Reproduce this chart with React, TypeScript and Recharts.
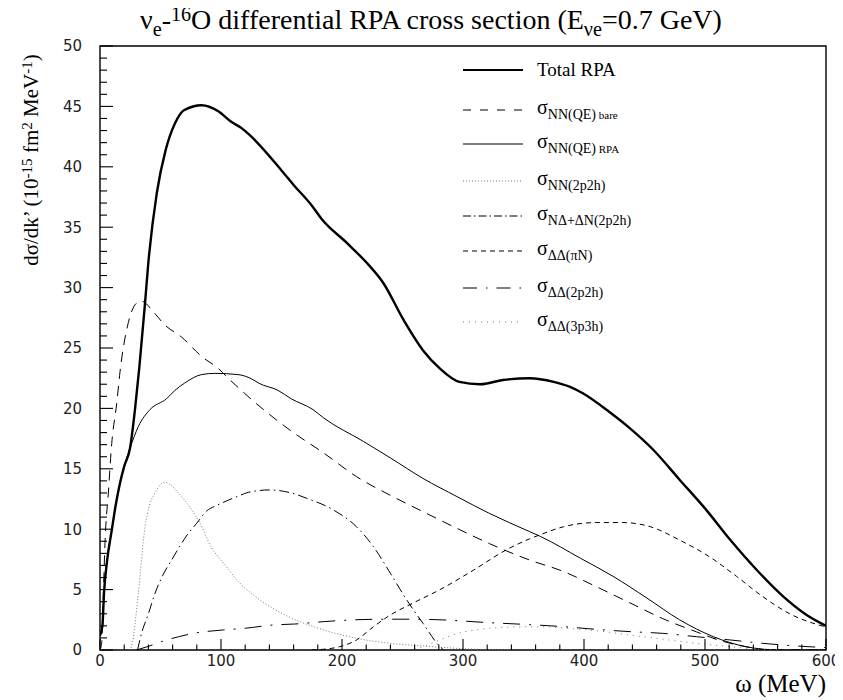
import React from 'react';
import { LineChart, Line, XAxis, YAxis, ReferenceArea, Legend } from 'recharts';

// ---- data: [omega (MeV), dσ/dk' (1e-15 fm^2 MeV^-1)] ----
const totalRPA: [number, number][] = [
  [0, 1.2], [2, 2.0], [3.3, 4.7], [6, 7.5], [9.7, 9.9], [13, 12.0], [16.5, 13.8], [20, 15.2],
  [24.8, 16.7], [28.9, 19.9], [32.5, 23.4], [37.2, 28.7], [39.9, 32.0], [46.9, 37.8], [54.3, 41.4],
  [62, 43.6], [69.7, 44.7], [84, 45.1], [97.8, 44.6], [108.8, 43.7], [117, 43.2], [124, 42.6],
  [150, 39.7], [160, 38.5], [175, 36.8], [183, 35.7], [204, 33.7], [220, 32.1], [234, 30.4],
  [251, 27.3], [267, 24.8], [281, 23.3], [297, 22.2], [314, 22.0], [333, 22.35], [355, 22.5],
  [375, 22.2], [388, 21.8], [399, 21.25], [421, 19.7], [438, 18.35], [457, 16.6], [479, 14.1],
  [501, 11.6], [521, 9.1], [543, 6.6], [565, 4.4], [584, 2.9], [600, 2.0],
];
const nnQeBare: [number, number][] = [
  [0, 0], [1.4, 0.6], [2.8, 4.7], [4.1, 8.8], [6.9, 13.0], [9.7, 17.1], [13.8, 20.4], [16.5, 23.0],
  [23.4, 27.1], [31.7, 28.8], [35, 28.85], [44, 28.0], [53.7, 26.9], [67.5, 25.9], [84, 24.3],
  [97.8, 23.3], [107, 22.4], [157, 18.2], [185, 16.3], [212, 14.35], [240, 12.8], [267, 11.45],
  [295, 10.07], [322, 8.8], [355, 7.45], [383, 6.5], [410, 5.25], [438, 3.9], [465, 2.6],
  [493, 1.5], [512, 0.8], [534, 0.27], [554, 0], [600, 0],
];
const nnQeRPA: [number, number][] = [
  [0, 1.2], [2, 2.0], [3.3, 4.7], [6, 7.5], [9.7, 9.9], [13, 12.0], [16.5, 13.8], [20, 15.2],
  [24.8, 16.7], [31.7, 18.5], [41.3, 19.9], [55, 20.8], [62, 21.5], [70, 22.1], [84, 22.8],
  [95, 22.9], [114, 22.8], [127, 22.35], [131, 22.1], [147, 21.5], [158, 20.8], [176, 19.9],
  [185, 19.2], [218, 17.25], [240, 15.9], [267, 14.2], [295, 12.7], [322, 11.3], [355, 9.8],
  [364, 9.4], [397, 7.6], [424, 6.1], [452, 4.3], [479, 2.5], [507, 1.1], [534, 0.27], [562, 0],
  [600, 0],
];
const nn2p2h: [number, number][] = [
  [24, 0], [26, 0.3], [31.7, 4.7], [37.2, 10.2], [41, 12.0], [45.5, 13.0], [50, 13.7], [53.7, 13.9],
  [58, 13.7], [64.7, 13.0], [74.4, 11.8], [82.6, 10.5], [92, 8.5], [102, 7.2], [115, 5.6],
  [130, 4.3], [157, 2.7], [185, 1.66], [212, 0.97], [240, 0.55], [267, 0.33], [295, 0.14],
  [320, 0.03], [340, 0],
];
const nDeltaDeltaN2p2h: [number, number][] = [
  [31, 0], [34.4, 1.4], [40, 3.0], [45.5, 4.7], [52, 6.2], [59.2, 7.45], [66, 8.6], [73, 9.66],
  [80, 10.5], [88, 11.5], [96, 11.95], [106, 12.4], [115.7, 12.8], [122.6, 13.05], [140, 13.25],
  [158, 13.0], [170.8, 12.56], [192.8, 11.6], [212, 10.2], [226, 8.55], [240, 6.35], [253.5, 4.14],
  [267, 2.2], [281, 0.27], [284, 0],
];
const ddPiN: [number, number][] = [
  [175, 0], [184.6, 0.06], [198, 0.27], [212, 0.83], [226, 1.93], [240, 2.9], [259, 3.9],
  [281, 5.0], [308.5, 6.6], [336, 8.3], [355, 9.2], [364, 9.55], [383, 10.2], [410, 10.55],
  [432, 10.55], [455, 10.2], [479, 9.1], [504, 7.7], [526, 6.1], [548, 4.4], [570, 3.0], [600, 1.9],
];
const dd2p2h: [number, number][] = [
  [30, 0], [40, 0.3], [51, 0.7], [65, 1.1], [78.5, 1.4], [102, 1.66], [120, 1.8], [143, 2.07],
  [161, 2.15], [185, 2.35], [226, 2.54], [253, 2.55], [281, 2.5], [322, 2.26], [355, 2.1],
  [383, 1.93], [410, 1.71], [438, 1.52], [465, 1.38], [493, 1.1], [521, 0.83], [548, 0.55],
  [576, 0.33], [600, 0.2],
];
const dd3p3h: [number, number][] = [
  [255, 0], [265, 0.2], [275, 0.6], [285, 1.0], [295, 1.35], [310, 1.65], [322, 1.8], [340, 1.9],
  [364, 1.93], [385, 1.8], [410, 1.6], [438, 1.24], [465, 0.9], [493, 0.55], [521, 0.27],
  [548, 0.05], [560, 0],
];

const xTicks = [0, 20, 40, 60, 80, 100, 120, 140, 160, 180, 200, 220, 240, 260, 280, 300, 320, 340,
  360, 380, 400, 420, 440, 460, 480, 500, 520, 540, 560, 580, 600];
const xTickLabels = [0, 100, 200, 300, 400, 500, 600];
const yTicks = [0, 1, 2, 3, 4, 5, 6, 7, 8, 9, 10, 11, 12, 13, 14, 15, 16, 17, 18, 19, 20, 21, 22, 23,
  24, 25, 26, 27, 28, 29, 30, 31, 32, 33, 34, 35, 36, 37, 38, 39, 40, 41, 42, 43, 44, 45, 46, 47, 48,
  49, 50];
const yTickLabels = [0, 5, 10, 15, 20, 25, 30, 35, 40, 45, 50];

const toPts = (a: [number, number][]) => a.map(([x, y]) => ({ x, y }));

const SERIF = '"Liberation Serif", "Times New Roman", serif';
const SANS = '"DejaVu Sans", sans-serif';

type Series = {
  key: string;
  data: [number, number][];
  stroke: string;
  width: number;
  dash?: string;
  legendDash?: string;
  sub?: string;
  small?: string;
  main?: string;
};

const series: Series[] = [
  { key: 'total', data: totalRPA, stroke: '#000', width: 2.4, main: 'Total RPA' },
  { key: 'bare', data: nnQeBare, stroke: '#000', width: 1, dash: '10 7', legendDash: '8 9', sub: 'NN(QE)', small: 'bare' },
  { key: 'rpa', data: nnQeRPA, stroke: '#000', width: 1, sub: 'NN(QE)', small: 'RPA' },
  { key: 'nn2p2h', data: nn2p2h, stroke: '#777', width: 1, dash: '1 2', legendDash: '1 2', sub: 'NN(2p2h)' },
  { key: 'nd', data: nDeltaDeltaN2p2h, stroke: '#000', width: 1, dash: '10 4 1.5 4', legendDash: '8 3 1.5 3', sub: 'NΔ+ΔN(2p2h)' },
  { key: 'pin', data: ddPiN, stroke: '#000', width: 1, dash: '5 4', legendDash: '5 4', sub: 'ΔΔ(πN)' },
  { key: 'dd2p2h', data: dd2p2h, stroke: '#000', width: 1, dash: '17 9 2 9', legendDash: '14 9 1.5 9', sub: 'ΔΔ(2p2h)' },
  { key: 'dd3p3h', data: dd3p3h, stroke: '#777', width: 1, dash: '1 5', legendDash: '1 5', sub: 'ΔΔ(3p3h)' },
];

const legendRowY = [22, 62, 96, 133, 168, 203, 240, 274];

const XTick = (props: any) => {
  const { x, y, payload } = props;
  const v = payload.value;
  const major = xTickLabels.includes(v);
  return (
    <g>
      <line x1={x} y1={y} x2={x} y2={y - (major ? 11 : 5.5)} stroke="#000" strokeWidth={1.1} />
      {major && (
        <text x={x} y={y + 16} textAnchor="middle" fontFamily={SANS} fontSize={15} fill="#222">
          {v}
        </text>
      )}
    </g>
  );
};

const YTick = (props: any) => {
  const { x, y, payload } = props;
  const v = payload.value;
  const major = yTickLabels.includes(v);
  return (
    <g>
      <line x1={x} y1={y} x2={x + (major ? 13 : 7)} y2={y} stroke="#000" strokeWidth={1.1} />
      {major && (
        <text x={x - 18} y={y} dy="0.36em" textAnchor="end" fontFamily={SANS} fontSize={15} fill="#222">
          {v}
        </text>
      )}
    </g>
  );
};

const LegendContent = () => (
  <svg width={220} height={300} style={{ overflow: 'visible' }}>
    {series.map((s, i) => {
      const y = legendRowY[i];
      return (
        <g key={s.key}>
          <line x1={15} x2={75} y1={y} y2={y} stroke={s.stroke} strokeWidth={s.key === 'total' ? 2 : 1.2}
            strokeDasharray={s.legendDash} />
          {s.main ? (
            <text x={89} y={y + 6} fontFamily={SERIF} fontSize={19} fill="#000">{s.main}</text>
          ) : (
            <text x={89} y={y + 4} fontFamily={SERIF} fill="#000">
              <tspan fontSize={20}>σ</tspan>
              <tspan fontSize={14} dy={5}>{s.sub}</tspan>
              {s.small && <tspan fontSize={11}> {s.small}</tspan>}
            </text>
          )}
        </g>
      );
    })}
  </svg>
);

const sup = (t: string) => (
  <span style={{ fontSize: '0.72em', position: 'relative', top: '-0.42em' }}>{t}</span>
);
const sub = (t: string) => (
  <span style={{ fontSize: '0.72em', position: 'relative', top: '0.35em' }}>{t}</span>
);

export default function App() {
  return (
    <div style={{ position: 'relative', width: 835, height: 692, background: '#fff' }}>
      <LineChart width={835} height={684} margin={{ top: 38, right: 17, bottom: 41, left: 91 }}>
        <XAxis type="number" dataKey="x" domain={[0, 600]} ticks={xTicks} interval={0} height={1}
          tickSize={0} tickMargin={0} axisLine={false} tickLine={false} tick={<XTick />} allowDataOverflow />
        <YAxis type="number" domain={[0, 50]} ticks={yTicks} interval={0} width={1}
          tickSize={0} tickMargin={0} axisLine={false} tickLine={false} tick={<YTick />} allowDataOverflow />
        <ReferenceArea x1={0} x2={600} y1={0} y2={50} fill="none" stroke="#000" strokeWidth={1.4} />
        {series.map((s) => (
          <Line key={s.key} data={toPts(s.data)} dataKey="y" type="monotone" dot={false}
            stroke={s.stroke} strokeWidth={s.width} strokeDasharray={s.dash}
            isAnimationActive={false} legendType="none" />
        ))}
        <Legend layout="vertical" align="center" verticalAlign="middle" content={<LegendContent />}
          wrapperStyle={{ left: 440, top: 40, width: 220, height: 300 }} />
      </LineChart>
      <div style={{ position: 'absolute', left: 132, top: -3, fontFamily: SERIF, fontSize: 28,
        lineHeight: '30px', whiteSpace: 'nowrap', color: '#000' }}>
        ν{sub('e')}-{sup('16')}O differential RPA cross section (E{sub('νe')}=0.7 GeV)
      </div>
      <div style={{ position: 'absolute', left: 24, top: 152, transform: 'translate(-50%, -50%) rotate(-90deg)',
        fontFamily: SERIF, fontSize: 21, lineHeight: '26px', whiteSpace: 'nowrap', color: '#000' }}>
        dσ/dk’ (10{sup('-15')} fm{sup('2')} MeV{sup('-1')})
      </div>
      <div style={{ position: 'absolute', right: 17, top: 663, fontFamily: SERIF, fontSize: 25,
        lineHeight: '25px', whiteSpace: 'nowrap', color: '#000' }}>
        ω (MeV)
      </div>
    </div>
  );
}
